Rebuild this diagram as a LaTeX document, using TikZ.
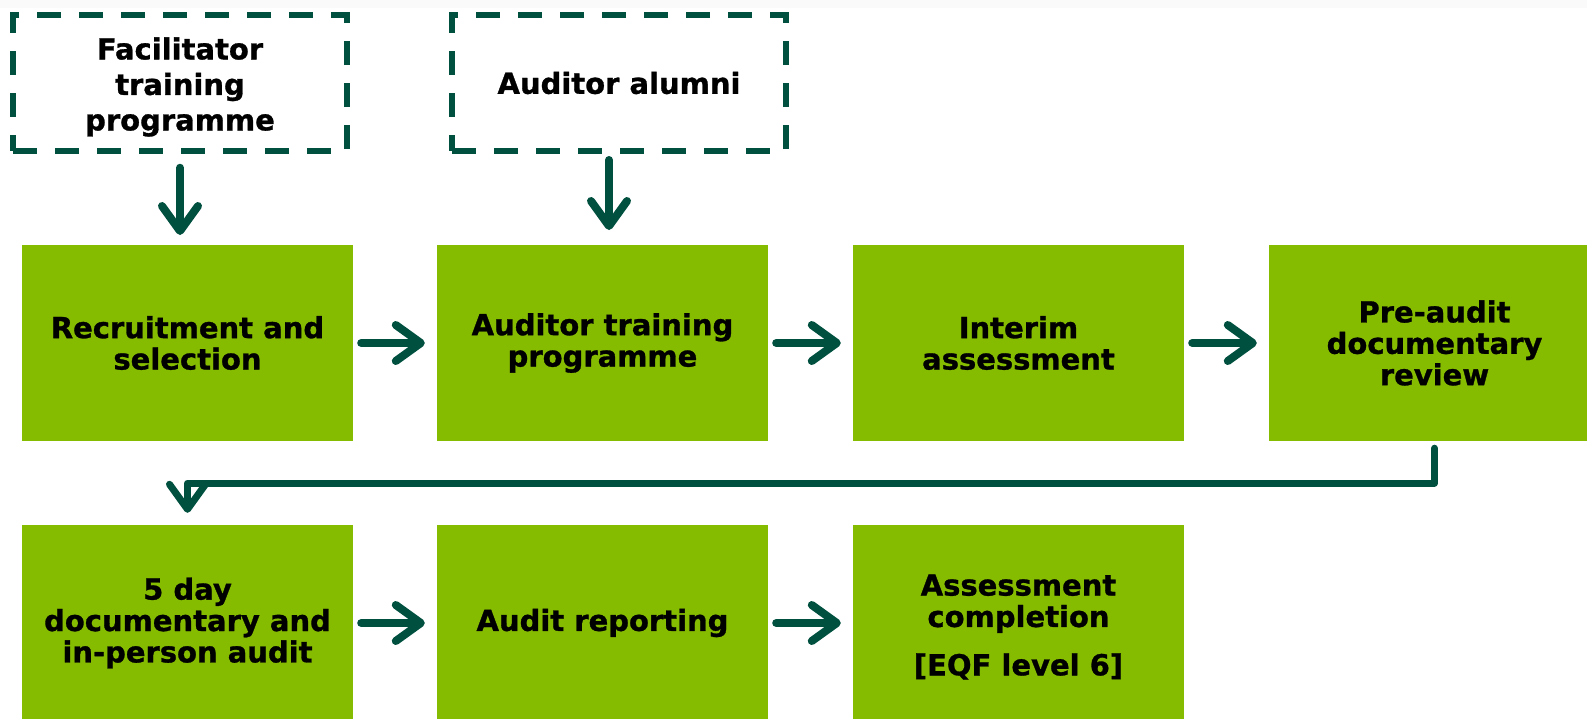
\documentclass[tikz,border=0pt]{standalone}
\usepackage{fontspec}
\setmainfont{DejaVu Sans}[BoldFeatures={FakeBold=1}]
\usetikzlibrary{arrows.meta}
\definecolor{leaf}{RGB}{134,188,0}
\definecolor{pine}{RGB}{0,80,64}
\begin{document}
\begin{tikzpicture}[x=1pt,y=-1pt,
  greenbox/.style={fill=leaf, draw=none, minimum width=331pt, minimum height=196pt, inner sep=0pt,
    align=center, font=\fontsize{29}{31.4}\selectfont\bfseries, text=black},
  plaintext/.style={draw=none, fill=none, inner sep=0pt, align=center, text=black},
  dashbox/.style={draw=pine, line width=5.5pt, dash pattern=on 24pt off 18pt, minimum width=334pt,
    minimum height=136pt, inner sep=0pt, align=center, text=black,
    font=\fontsize{29}{35.5}\selectfont\bfseries},
  flow/.style={draw=pine, line width=8pt, line cap=round, line join=round,
    -{Straight Barb[length=25pt, width=36pt, line cap=round, line join=round]}},
  elbow/.style={flow, line width=7pt}
]
\clip (0,0) rectangle (1587,718);
\fill[white] (0,0) rectangle (1587,718);
\fill[gray!4] (0,0) rectangle (1587,8);

\node[dashbox] (fac) at (180,83) {};
\node[plaintext, font=\fontsize{29}{35.5}\selectfont\bfseries] (factext) at (180,87) {Facilitator\\training\\programme};
\node[dashbox] (alu) at (619,83) {Auditor alumni};

\node[greenbox] (r1) at (187.5,343) {Recruitment and\\selection};
\node[greenbox] (r2) at (602.5,343) {Auditor training\\programme};
\node[greenbox] (r3) at (1018.5,343) {Interim\\assessment};
\node[greenbox] (r4) at (1434.5,343) {Pre-audit\\documentary\\review};

\node[greenbox] (s1) at (187.5,623) {5 day\\documentary and\\in-person audit};
\node[greenbox] (s2) at (602.5,623) {Audit reporting};
\node[greenbox] (s3) at (1018.5,623) {};
\node[plaintext, font=\fontsize{29}{31.4}\selectfont\bfseries] (s3text) at (1018.5,627) {Assessment\\completion\\[17pt][EQF level 6]};

\draw[flow] ([xshift=8pt]r1.east) -- ([xshift=-12pt]r2.west);
\draw[flow] ([xshift=8pt]r2.east) -- ([xshift=-12pt]r3.west);
\draw[flow] ([xshift=8pt]r3.east) -- ([xshift=-12pt]r4.west);
\draw[flow] ([xshift=8pt]s1.east) -- ([xshift=-12pt]s2.west);
\draw[flow] ([xshift=8pt]s2.east) -- ([xshift=-12pt]s3.west);

\coordinate (a1) at (180,235);
\coordinate (a2) at (609,160);
\coordinate (a2e) at (609,230);
\draw[flow] ([yshift=-14pt]fac.south) -- (a1);
\draw[flow] (a2) -- (a2e);

\coordinate (turn) at (0,483);
\draw[elbow] ([yshift=-7pt]r4.south) -- (r4.south |- turn) -- (s1.north |- turn) -- ([yshift=12pt]s1.north);
\end{tikzpicture}
\end{document}
